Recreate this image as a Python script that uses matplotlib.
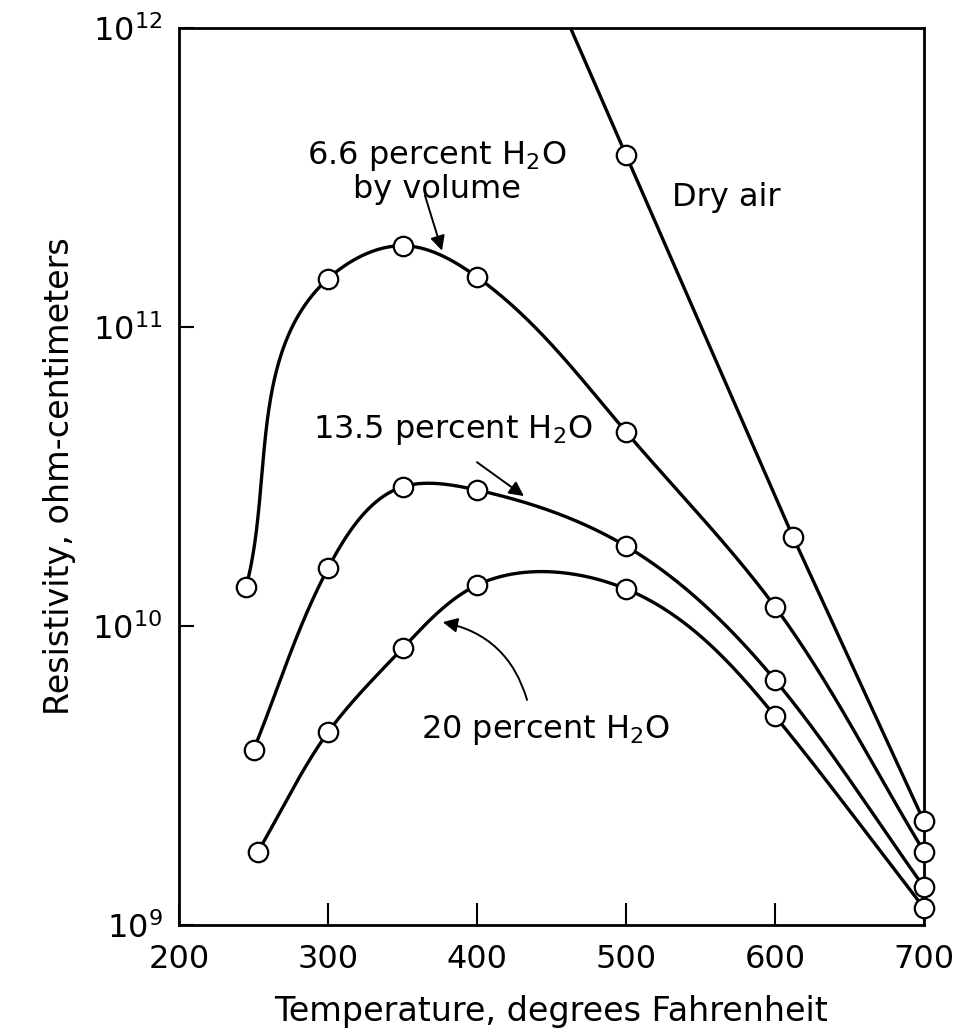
import numpy as np
import matplotlib
matplotlib.use("Agg")
import matplotlib.pyplot as plt

# ---- data ----
dry_T = [500, 612, 700]
dry_R = [3.76e11, 1.99e10, 2.22e9]
# extension of the dry-air line above the top of the chart (drawn, no marker)
dry_ext_T = [450]
dry_ext_R = [1.40e12]

h66_T = [245, 300, 350, 400, 500, 600, 700]
h66_R = [1.35e10, 1.45e11, 1.87e11, 1.47e11, 4.46e10, 1.16e10, 1.76e9]

h135_T = [250, 300, 350, 400, 500, 600, 700]
h135_R = [3.85e9, 1.56e10, 2.92e10, 2.85e10, 1.85e10, 6.6e9, 1.34e9]

h20_T = [253, 300, 350, 400, 500, 600, 700]
h20_R = [1.76e9, 4.41e9, 8.42e9, 1.37e10, 1.33e10, 5.0e9, 1.14e9]

x_ticks = [200, 300, 400, 500, 600, 700]
y_ticks = [1e9, 1e10, 1e11, 1e12]
y_ticklabels = ["10$^{9}$", "10$^{10}$", "10$^{11}$", "10$^{12}$"]


def clamped_spline(x, y, xs):
    """Cubic spline whose end slopes follow the first/last chord."""
    x = np.asarray(x, float)
    y = np.asarray(y, float)
    n = len(x)
    h = np.diff(x)
    d0 = (y[1] - y[0]) / h[0]
    dn = (y[-1] - y[-2]) / h[-1]
    A = np.zeros((n, n))
    b = np.zeros(n)
    A[0, 0], A[0, 1] = 2 * h[0], h[0]
    b[0] = 6 * ((y[1] - y[0]) / h[0] - d0)
    A[-1, -2], A[-1, -1] = h[-1], 2 * h[-1]
    b[-1] = 6 * (dn - (y[-1] - y[-2]) / h[-1])
    for i in range(1, n - 1):
        A[i, i - 1] = h[i - 1]
        A[i, i] = 2 * (h[i - 1] + h[i])
        A[i, i + 1] = h[i]
        b[i] = 6 * ((y[i + 1] - y[i]) / h[i] - (y[i] - y[i - 1]) / h[i - 1])
    M = np.linalg.solve(A, b)
    idx = np.clip(np.searchsorted(x, xs) - 1, 0, n - 2)
    x0, x1 = x[idx], x[idx + 1]
    y0, y1 = y[idx], y[idx + 1]
    M0, M1 = M[idx], M[idx + 1]
    hh = x1 - x0
    t0 = x1 - xs
    t1 = xs - x0
    return (M0 * t0 ** 3 / (6 * hh) + M1 * t1 ** 3 / (6 * hh)
            + (y0 / hh - M0 * hh / 6) * t0 + (y1 / hh - M1 * hh / 6) * t1)


def smooth_curve(T, R):
    # parametric (chord-length) spline in a display-like scaled space
    X = (np.asarray(T, float) - 200) / 500 * 745
    Y = np.log10(R) * 299
    d = np.hypot(np.diff(X), np.diff(Y))
    t = np.concatenate([[0], np.cumsum(d)])
    ts = np.linspace(0, t[-1], 800)
    xs = clamped_spline(t, X, ts)
    ys = clamped_spline(t, Y, ts)
    return xs / 745 * 500 + 200, 10 ** (ys / 299)


W, H = 961, 1035
fig = plt.figure(figsize=(W / 100, H / 100), dpi=100)
plt.rcParams['mathtext.fontset'] = 'dejavusans'
ax = fig.add_axes([179 / W, 1 - 925 / H, (924 - 179) / W, (925 - 28) / H])

ax.set_yscale('log')
ax.set_xlim(200, 700)
ax.set_ylim(1e9, 1e12)

lw = 2.4
mk = dict(marker='o', ms=14, mfc='white', mec='black', mew=1.6, ls='none',
          zorder=5, clip_on=False)

for T, R in [(h66_T, h66_R), (h135_T, h135_R), (h20_T, h20_R)]:
    xs, ys = smooth_curve(T, R)
    ax.plot(xs, ys, color='black', lw=lw, zorder=3)
    ax.plot(T, R, **mk)

ax.plot(dry_ext_T + dry_T, dry_ext_R + dry_R, color='black', lw=lw, zorder=3)
ax.plot(dry_T, dry_R, **mk)

fs = 23
ax.text(373, 3.3e11, "6.6 percent H$_2$O\nby volume", ha='center', va='center',
        fontsize=fs, linespacing=1.05)
ax.annotate("", xy=(376.5, 1.80e11), xytext=(365, 2.76e11),
            arrowprops=dict(arrowstyle='-|>', lw=1.4, color='black',
                            mutation_scale=22, shrinkA=0, shrinkB=0))
ax.text(531, 2.72e11, "Dry air", ha='left', va='center', fontsize=fs)
ax.text(384, 4.52e10, "13.5 percent H$_2$O", ha='center', va='center', fontsize=fs)
ax.annotate("", xy=(431.5, 2.72e10), xytext=(400, 3.53e10),
            arrowprops=dict(arrowstyle='-|>', lw=1.4, color='black',
                            mutation_scale=22, shrinkA=0, shrinkB=0))
ax.text(446, 4.49e9, "20 percent H$_2$O", ha='center', va='center', fontsize=fs)
ax.annotate("", xy=(377, 1.03e10), xytext=(433.6, 5.66e9),
            arrowprops=dict(arrowstyle='-|>', lw=1.4, color='black',
                            mutation_scale=22, shrinkA=0, shrinkB=0,
                            connectionstyle='arc3,rad=0.3'))

ax.set_xticks(x_ticks)
ax.set_xticklabels([str(t) for t in x_ticks])
ax.set_yticks(y_ticks)
ax.set_yticklabels(y_ticklabels)
ax.yaxis.set_minor_locator(matplotlib.ticker.NullLocator())
ax.tick_params(axis='x', direction='in', length=16, width=1.5, pad=14, labelsize=23)
ax.tick_params(axis='y', direction='in', length=11, width=1.5, pad=12, labelsize=23)
for s in ax.spines.values():
    s.set_linewidth(2.0)

ax.set_xlabel("Temperature, degrees Fahrenheit", fontsize=24, labelpad=14)
ax.set_ylabel("Resistivity, ohm-centimeters", fontsize=24, labelpad=12)

fig.savefig("out.png", dpi=100, facecolor='white')
